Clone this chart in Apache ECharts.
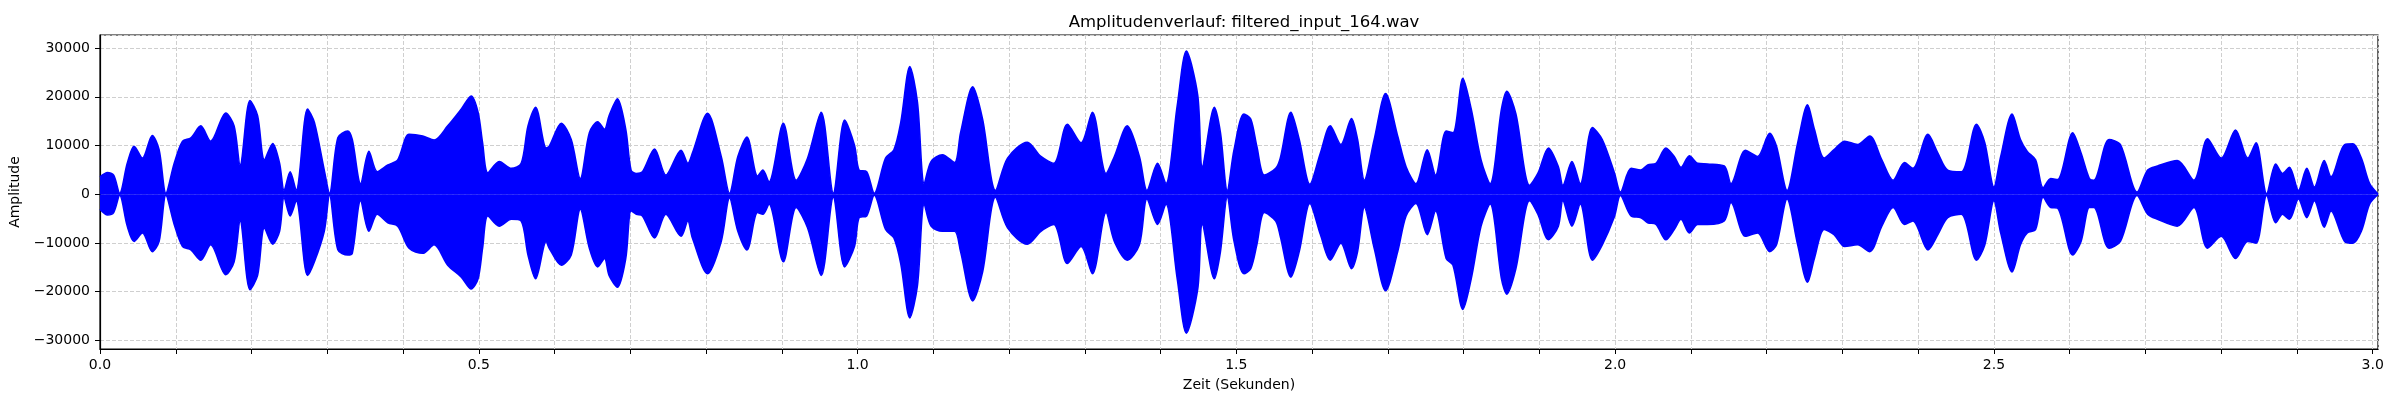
<!DOCTYPE html>
<html>
<head>
<meta charset="utf-8">
<title>Amplitudenverlauf</title>
<script src="https://cdn.jsdelivr.net/npm/echarts@6/dist/echarts.min.js"></script>
<style>
  html, body { margin: 0; padding: 0; background: #fff; }
  #chart { width: 2400px; height: 400px; }
</style>
</head>
<body>
<div id="chart"></div>
<script>
// envelope of the waveform (seconds / amplitude)
var times = [
  0.000, 0.010, 0.018, 0.026, 0.036, 0.045, 0.056, 0.069, 0.078, 0.087,
  0.098, 0.109, 0.120, 0.133, 0.146, 0.166, 0.177, 0.185, 0.198, 0.208,
  0.217, 0.228, 0.237, 0.243, 0.251, 0.259, 0.274, 0.283, 0.296, 0.303,
  0.314, 0.327, 0.333, 0.344, 0.355, 0.366, 0.380, 0.393, 0.408, 0.426,
  0.441, 0.459, 0.477, 0.490, 0.499, 0.505, 0.512, 0.527, 0.543, 0.556,
  0.565, 0.575, 0.589, 0.593, 0.609, 0.622, 0.634, 0.646, 0.657, 0.666,
  0.672, 0.683, 0.694, 0.701, 0.708, 0.716, 0.732, 0.747, 0.767, 0.776,
  0.782, 0.802, 0.820, 0.831, 0.842, 0.854, 0.868, 0.875, 0.883, 0.902,
  0.919, 0.934, 0.952, 0.968, 0.983, 0.996, 1.002, 1.012, 1.022, 1.037,
  1.048, 1.057, 1.069, 1.079, 1.088, 1.097, 1.112, 1.128, 1.136, 1.152,
  1.165, 1.182, 1.198, 1.224, 1.242, 1.259, 1.277, 1.295, 1.310, 1.328,
  1.339, 1.356, 1.372, 1.382, 1.396, 1.407, 1.422, 1.434, 1.449, 1.455,
  1.471, 1.479, 1.488, 1.497, 1.510, 1.519, 1.527, 1.537, 1.552, 1.558,
  1.572, 1.583, 1.597, 1.611, 1.624, 1.638, 1.652, 1.660, 1.669, 1.682,
  1.697, 1.713, 1.724, 1.737, 1.752, 1.763, 1.777, 1.786, 1.799, 1.810,
  1.823, 1.835, 1.850, 1.857, 1.869, 1.887, 1.898, 1.912, 1.925, 1.931,
  1.943, 1.954, 1.970, 1.983, 1.999, 2.007, 2.021, 2.034, 2.043, 2.054,
  2.067, 2.078, 2.087, 2.098, 2.109, 2.122, 2.144, 2.153, 2.172, 2.188,
  2.204, 2.213, 2.227, 2.241, 2.254, 2.263, 2.276, 2.289, 2.303, 2.320,
  2.336, 2.352, 2.367, 2.382, 2.393, 2.413, 2.426, 2.439, 2.457, 2.477,
  2.488, 2.500, 2.509, 2.524, 2.535, 2.544, 2.555, 2.565, 2.575, 2.584,
  2.604, 2.615, 2.626, 2.632, 2.652, 2.667, 2.689, 2.703, 2.716, 2.742,
  2.764, 2.782, 2.800, 2.819, 2.835, 2.846, 2.860, 2.872, 2.881, 2.890,
  2.902, 2.913, 2.923, 2.936, 2.945, 2.963, 2.974, 2.985, 2.996, 3.007
];
var upper = [
  3560, 4470, 3900, 200, 6350, 9840, 7400, 12070, 9140, 200,
  6350, 10890, 11580, 14030, 10890, 16680, 14030, 6000, 19260, 16120,
  7050, 10400, 6350, 770, 4610, 770, 17500, 14720, 4950, 200,
  11580, 12980, 11230, 2160, 8790, 4610, 6000, 7050, 12280, 11930,
  11100, 14030, 17500, 20170, 16820, 10540, 4400, 6700, 5300, 6350,
  14030, 17860, 9490, 9840, 14580, 11230, 3210, 12630, 14860, 13330,
  16120, 19610, 13330, 4950, 4260, 4610, 9280, 3910, 9000, 6350,
  8440, 16610, 7750, 200, 7750, 11720, 3700, 4950, 2510, 14580,
  2860, 7400, 16820, 200, 15210, 10000, 4950, 4610, 200, 7400,
  9140, 14720, 26240, 18910, 2160, 6700, 8100, 6500, 12630, 22050,
  15420, 770, 7400, 10680, 7750, 6350, 14370, 10540, 16820, 4260,
  7750, 14030, 7750, 770, 6350, 2160, 18210, 29380, 20310, 5650,
  17860, 12630, 770, 9140, 16470, 15420, 9840, 3910, 5300, 7400,
  16820, 11230, 2020, 8440, 14030, 10190, 15560, 11230, 2860, 11230,
  20660, 11930, 5650, 2160, 9140, 3910, 12980, 12630, 23800, 17500,
  7050, 2160, 17500, 21140, 16470, 1810, 4260, 9490, 5650, 1810,
  6700, 2160, 13680, 11230, 4400, 420, 5300, 4950, 6000, 6350,
  9490, 7750, 5510, 7900, 6350, 6210, 5790, 2160, 9000, 7750,
  12490, 9840, 770, 10540, 18350, 13330, 7400, 9140, 10890, 10190,
  11930, 7050, 2860, 6490, 5300, 12280, 8440, 4950, 4610, 14370,
  10540, 1460, 7750, 16470, 11230, 8790, 7050, 1330, 3210, 3000,
  12630, 8440, 3210, 2860, 11230, 10190, 420, 4950, 5790, 6910,
  2860, 11370, 7400, 13190, 7400, 10540, 100, 6210, 4260, 5510,
  770, 5300, 1460, 6910, 3560, 10190, 10330, 7400, 2160, 50
];
var lower = [
  -3070, -4260, -3770, -200, -6560, -9700, -7960, -11790, -9700, -200,
  -6210, -10750, -11440, -13540, -10400, -16540, -13890, -5510, -19610, -16680,
  -6910, -10260, -7610, -630, -4470, -1330, -16680, -13890, -7610, -200,
  -11440, -12490, -12140, -1330, -7610, -4120, -5860, -6560, -11100, -12140,
  -10400, -14580, -17030, -19470, -17380, -11100, -4470, -6560, -5160, -5510,
  -12490, -17380, -9700, -11100, -14580, -12490, -3070, -11100, -14930, -13190,
  -16680, -19120, -13190, -3420, -4120, -4470, -9000, -4120, -8650, -5510,
  -9000, -16330, -9700, -770, -7610, -11440, -3770, -4120, -2020, -13890,
  -2720, -6910, -16680, -630, -14930, -10700, -4820, -4470, -200, -7260,
  -9000, -14240, -25400, -18770, -2020, -6560, -7610, -7610, -11790, -21910,
  -15980, -630, -6910, -10260, -7610, -6210, -14240, -10750, -16330, -3770,
  -9700, -13540, -10400, -980, -6210, -2020, -17380, -28540, -19470, -6210,
  -17380, -11790, -630, -9700, -16330, -15280, -10400, -3770, -5510, -8650,
  -17030, -11790, -1880, -8300, -13540, -10050, -15280, -11790, -2720, -11100,
  -19820, -11790, -4470, -1880, -8300, -3420, -13190, -14580, -23660, -17380,
  -6560, -2020, -17380, -20520, -15280, -1330, -4120, -9350, -6560, -1330,
  -6560, -2020, -13540, -10400, -4640, -280, -4470, -4820, -5860, -6210,
  -9350, -7260, -5160, -7960, -6210, -6210, -5510, -1680, -8650, -7960,
  -11790, -10400, -980, -10400, -18070, -13190, -7260, -8300, -10750, -10400,
  -11790, -6560, -2720, -6210, -5510, -11440, -8300, -4820, -4120, -13540,
  -10400, -1330, -7960, -15980, -10400, -7960, -7260, -630, -2720, -2860,
  -12490, -9700, -2720, -2720, -11100, -9700, -280, -4120, -5160, -6560,
  -2720, -11100, -8650, -13190, -9700, -10050, -280, -5860, -4120, -5160,
  -980, -4820, -1330, -6770, -3420, -9700, -10050, -7610, -2020, -50
];
var xHalfTicks = [0, 0.5, 1.0, 1.5, 2.0, 2.5, 3.0];

var chart = echarts.init(document.getElementById('chart'), null, {renderer: 'canvas'});
var font = 'DejaVu Sans';
var gridDash = {color: '#cfcfcf', width: 1, type: [4, 2]};

var option = {
  backgroundColor: '#ffffff',
  animation: false,
  title: {
    text: 'Amplitudenverlauf: filtered_input_164.wav',
    left: 1239,
    top: 9,
    textAlign: 'center',
    textStyle: {fontFamily: font, fontSize: 16.5, fontWeight: 'normal', color: '#000'}
  },
  grid: {
    left: 100, right: 22, top: 35, bottom: 51,
    show: true, borderColor: '#000', borderWidth: 1.2, backgroundColor: 'transparent'
  },
  xAxis: {
    type: 'value',
    min: 0,
    max: 3.007,
    interval: 0.1,
    name: 'Zeit (Sekunden)',
    nameLocation: 'middle',
    nameGap: 29,
    nameTextStyle: {fontFamily: font, fontSize: 14, color: '#000', verticalAlign: 'top'},
    axisLine: {show: true, onZero: false, lineStyle: {color: '#000', width: 1.2}},
    axisTick: {show: true, length: 5, lineStyle: {color: '#000', width: 1}},
    axisLabel: {
      show: true, interval: 0, margin: 9, showMaxLabel: false,
      fontFamily: font, fontSize: 14, color: '#000',
      formatter: function (v) {
        for (var i = 0; i < xHalfTicks.length; i++) {
          if (Math.abs(v - xHalfTicks[i]) < 1e-6) return xHalfTicks[i].toFixed(1);
        }
        return '';
      }
    },
    splitLine: {show: true, lineStyle: gridDash}
  },
  yAxis: {
    type: 'value',
    min: -31800,
    max: 32700,
    splitNumber: 5,
    name: 'Amplitude',
    nameLocation: 'middle',
    nameGap: 65,
    nameTextStyle: {fontFamily: font, fontSize: 14, color: '#000'},
    axisLine: {show: true, lineStyle: {color: '#000', width: 1.2}},
    axisTick: {show: true, length: 5, lineStyle: {color: '#000', width: 1}},
    axisLabel: {
      margin: 10, showMinLabel: false, showMaxLabel: false,
      fontFamily: font, fontSize: 14, color: '#000',
      formatter: function (v) { return v < 0 ? '\u2212' + (-v) : String(v); }
    },
    splitLine: {show: true, lineStyle: gridDash}
  },
  series: [
    {
      name: 'upper',
      type: 'line',
      data: times.map(function (t, i) { return [t, upper[i]]; }),
      showSymbol: false,
      smooth: 0.3,
      lineStyle: {color: '#0000ff', width: 1.6},
      areaStyle: {color: '#0000ff', opacity: 1, origin: 0}
    },
    {
      name: 'lower',
      type: 'line',
      data: times.map(function (t, i) { return [t, lower[i]]; }),
      showSymbol: false,
      smooth: 0.3,
      lineStyle: {color: '#0000ff', width: 1.6},
      areaStyle: {color: '#0000ff', opacity: 1, origin: 0}
    }
  ]
};
chart.setOption(option);
</script>
</body>
</html>
